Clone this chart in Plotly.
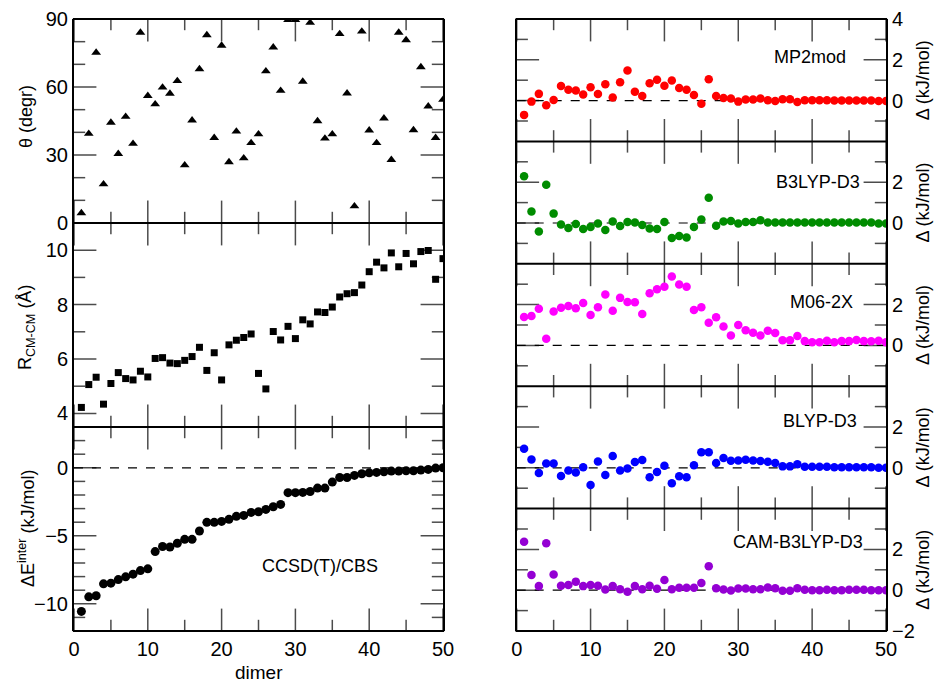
import plotly.graph_objects as go

dimer = list(range(1, 51))

theta = [4.4, 39.4, 75.2, 17.1, 44.3, 30.5, 46.9, 35.0, 84.0, 56.1,
         52.4, 59.8, 57.1, 62.7, 25.5, 45.3, 67.9, 82.9, 37.6, 78.3,
         26.9, 40.4, 28.6, 35.3, 39.2, 67.0, 77.5, 58.4, 89.6, 89.6,
         62.4, 88.4, 45.0, 37.3, 39.2, 83.4, 57.2, 7.4, 84.5, 40.9,
         35.3, 46.2, 27.9, 84.0, 80.7, 41.0, 68.8, 51.5, 37.6, 54.4]

r_cm = [4.22, 5.06, 5.33, 4.34, 5.10, 5.50, 5.28, 5.23, 5.55, 5.34,
        6.02, 6.05, 5.85, 5.83, 5.95, 6.09, 6.43, 5.58, 6.23, 5.23,
        6.52, 6.69, 6.79, 6.92, 5.47, 4.90, 7.01, 6.70, 7.20, 6.75,
        7.44, 7.29, 7.73, 7.71, 7.91, 8.28, 8.40, 8.44, 8.72, 9.21,
        9.56, 9.35, 9.90, 9.39, 9.88, 9.50, 9.95, 9.99, 8.93, 9.69]

e_inter = [-10.56, -9.49, -9.41, -8.53, -8.48, -8.22, -8.02, -7.82, -7.56, -7.43,
           -6.16, -5.79, -5.82, -5.55, -5.26, -5.26, -4.65, -4.01, -4.01, -3.94,
           -3.79, -3.57, -3.50, -3.28, -3.23, -3.06, -2.86, -2.69, -1.83, -1.83,
           -1.81, -1.74, -1.49, -1.49, -1.05, -0.71, -0.71, -0.56, -0.44, -0.37,
           -0.34, -0.29, -0.24, -0.24, -0.22, -0.22, -0.17, -0.12, -0.02, 0.0]

mp2mod = [-0.70, -0.05, 0.33, -0.23, 0.03, 0.72, 0.53, 0.50, 0.30, 0.65,
          0.32, 0.80, 0.15, 0.90, 1.48, 0.43, 0.23, 0.85, 1.02, 0.73,
          0.98, 0.62, 0.53, 0.27, -0.15, 1.05, 0.22, 0.13, 0.10, -0.05,
          0.05, 0.05, 0.10, 0.02, -0.02, 0.07, 0.07, -0.07, 0.02, 0.02,
          0.02, 0.02, 0.00, 0.00, 0.00, 0.00, 0.00, 0.00, -0.02, -0.02]

b3lyp_d3 = [2.29, 0.56, -0.42, 1.88, 0.46, -0.07, -0.24, -0.05, -0.29, -0.19,
            -0.02, -0.34, 0.07, -0.15, 0.05, 0.03, -0.10, -0.27, -0.29, 0.05,
            -0.73, -0.64, -0.71, -0.19, 0.17, 1.24, -0.14, 0.07, 0.10, -0.03,
            0.05, 0.05, 0.14, 0.03, 0.03, 0.03, 0.03, 0.03, 0.03, 0.03,
            0.02, 0.02, 0.02, 0.02, 0.02, 0.02, 0.02, 0.02, -0.02, -0.02]

m06_2x = [1.39, 1.44, 1.80, 0.33, 1.66, 1.84, 1.93, 1.82, 2.08, 1.49,
          1.87, 2.49, 1.70, 2.33, 2.13, 2.11, 1.54, 2.56, 2.75, 2.87,
          3.38, 2.98, 2.87, 1.74, 1.87, 1.11, 1.38, 0.93, 0.49, 1.00,
          0.74, 0.62, 0.49, 0.72, 0.61, 0.25, 0.25, 0.46, 0.21, 0.16,
          0.16, 0.23, 0.15, 0.21, 0.21, 0.26, 0.21, 0.20, 0.23, 0.16]

blyp_d3 = [0.93, 0.41, -0.26, 0.21, 0.21, -0.40, -0.13, -0.23, 0.03, -0.84,
           0.31, -0.35, 0.58, -0.13, -0.03, 0.28, 0.38, -0.46, -0.21, 0.10,
           -0.76, -0.41, -0.46, 0.13, 0.76, 0.76, 0.23, 0.48, 0.35, 0.36,
           0.40, 0.36, 0.33, 0.30, 0.23, 0.07, 0.07, 0.17, 0.05, 0.05,
           0.05, 0.05, 0.03, 0.03, 0.03, 0.03, 0.03, 0.03, 0.00, 0.00]

cam_b3lyp_d3 = [2.37, 0.75, 0.20, 2.30, 0.77, 0.22, 0.25, 0.42, 0.20, 0.25,
                0.22, 0.03, 0.20, 0.05, -0.08, 0.20, 0.05, 0.22, 0.07, 0.50,
                0.05, 0.12, 0.12, 0.12, 0.35, 1.18, 0.10, 0.03, -0.02, 0.08,
                0.08, 0.05, 0.05, 0.13, 0.10, -0.03, -0.03, 0.10, 0.02, 0.00,
                0.00, 0.02, 0.00, 0.00, 0.02, 0.02, 0.02, 0.00, 0.00, 0.00]

methods = ["MP2mod", "B3LYP-D3", "M06-2X", "BLYP-D3", "CAM-B3LYP-D3"]
method_values = [mp2mod, b3lyp_d3, m06_2x, blyp_d3, cam_b3lyp_d3]
method_colors = ["#ff0000", "#008c00", "#ff00ff", "#0000ff", "#9400d3"]
right_labels = [[0, 2, 4], [0, 2], [0, 2], [0, 2], [-2, 0, 2]]
label_pos = [(44.9, 2.14), (46.7, 1.99), (45.8, 2.15), (46.4, 2.27), (47.2, 2.38)]

# tick positions (major / minor) of every axis
x_major = [0, 10, 20, 30, 40, 50]
x_minor = [5, 15, 25, 35, 45]
theta_major, theta_minor = [0, 30, 60, 90], [10, 20, 40, 50, 70, 80]
r_major, r_minor = [4, 6, 8, 10], [5, 7, 9]
e_major, e_minor = [-10, -5, 0], [-11, -9, -8, -7, -6, -4, -3, -2, -1, 1, 2]
d_major, d_minor = [0, 2], [-1, 1, 3]

W, H = 937, 682
FONT = "Liberation Sans, Arial, sans-serif"
MAJ, MIN = 16, 8
XR = [0, 50]


def py(p):
    return 1 - p / H


LX = [74, 443]
RX = [516.7, 886]
left_edges = [19, 223, 427, 631]
right_edges = [19, 141.4, 263.8, 386.2, 508.6, 631]

fig = go.Figure()
layout = {}
shapes = []
annotations = []

TICKFONT = dict(family=FONT, size=20, color="black")


def name(kind, i):
    return kind if i == 1 else f"{kind}{i}"


def add_ticks(xa, ya, yr, ymaj, ymin):
    # tick marks as line-shaped markers centred on the frame; the plot-area clip
    # keeps only the inner half, giving inside ticks of the wanted length
    xs, ys, sz = [], [], []
    for vals, ln in ((x_major, MAJ), (x_minor, MIN)):
        for v in vals:
            for edge in yr:
                xs.append(v); ys.append(edge); sz.append(2 * ln)
    fig.add_trace(go.Scatter(x=xs, y=ys, mode="markers", xaxis=xa, yaxis=ya,
                             marker=dict(symbol="line-ns", size=sz, color="black",
                                         line=dict(width=1.5, color="black")),
                             cliponaxis=True, hoverinfo="skip", showlegend=False))
    xs, ys, sz = [], [], []
    for vals, ln in ((ymaj, MAJ), (ymin, MIN)):
        for v in vals:
            for edge in XR:
                xs.append(edge); ys.append(v); sz.append(2 * ln)
    fig.add_trace(go.Scatter(x=xs, y=ys, mode="markers", xaxis=xa, yaxis=ya,
                             marker=dict(symbol="line-ew", size=sz, color="black",
                                         line=dict(width=1.5, color="black")),
                             cliponaxis=True, hoverinfo="skip", showlegend=False))


def add_axes(i, xpx, ypx, yrange, ylabels, ymaj, ymin, yside, xlabels, top):
    xa, ya = name("x", i), name("y", i)
    layout[name("xaxis", i)] = dict(domain=[xpx[0] / W, xpx[1] / W], anchor=ya, range=XR,
                                    showline=False, ticks="", showgrid=False,
                                    zeroline=False, automargin=False,
                                    tickmode="array", tickvals=x_major,
                                    showticklabels=xlabels, tickfont=TICKFONT,
                                    ticklabelstandoff=4)
    layout[name("yaxis", i)] = dict(domain=[py(ypx[1]), py(ypx[0])], anchor=xa, range=yrange,
                                    side=yside, showline=True, linewidth=2, linecolor="black",
                                    mirror=True, ticks="", showgrid=False,
                                    zeroline=False, automargin=False,
                                    tickmode="array", tickvals=ylabels, tickfont=TICKFONT)
    add_ticks(xa, ya, yrange, ymaj, ymin)
    ys = [0, 1] if top else [0]
    for yv in ys:
        shapes.append(dict(type="line", xref=f"{xa} domain", yref=f"{ya} domain",
                           x0=-0.003, x1=1.003, y0=yv, y1=yv,
                           line=dict(color="black", width=2), layer="above"))


# left column
add_axes(1, LX, left_edges[0:2], [0, 90], theta_major,
         theta_major, theta_minor, "left", False, True)
add_axes(2, LX, left_edges[1:3], [3.5, 11], r_major,
         r_major, r_minor, "left", False, False)
add_axes(3, LX, left_edges[2:4], [-12, 3], e_major,
         e_major, e_minor, "left", True, False)

fig.add_trace(go.Scatter(x=dimer, y=theta, mode="markers", xaxis="x", yaxis="y",
                         marker=dict(symbol="triangle-up", size=8.5, color="black")))
fig.add_trace(go.Scatter(x=dimer, y=r_cm, mode="markers", xaxis="x2", yaxis="y2",
                         marker=dict(symbol="square", size=7, color="black")))
fig.add_trace(go.Scatter(x=dimer, y=e_inter, mode="markers", xaxis="x3", yaxis="y3",
                         marker=dict(symbol="circle", size=9, color="black")))

shapes.append(dict(type="line", xref="x3 domain", yref="y3", x0=0, x1=1, y0=0, y1=0,
                   line=dict(color="black", width=1.2, dash="dash"), layer="below"))

# right column
for k in range(5):
    i = 4 + k
    add_axes(i, RX, right_edges[k:k + 2], [-2, 4],
             right_labels[k], d_major, d_minor, "right", k == 4, k == 0)
    fig.add_trace(go.Scatter(x=dimer, y=method_values[k], mode="markers",
                             xaxis=f"x{i}", yaxis=f"y{i}",
                             marker=dict(symbol="circle", size=8.5, color=method_colors[k])))
    shapes.append(dict(type="line", xref=f"x{i} domain", yref=f"y{i}", x0=0, x1=1, y0=0, y1=0,
                       line=dict(color="black", width=1.2, dash="dash"), layer="below"))
    annotations.append(dict(x=label_pos[k][0], y=label_pos[k][1], xref=f"x{i}", yref=f"y{i}",
                            text=methods[k], showarrow=False, xanchor="right", yanchor="middle",
                            font=dict(family=FONT, size=18, color="black")))
    yc = (right_edges[k] + right_edges[k + 1]) / 2
    annotations.append(dict(x=923 / W, y=py(yc), xref="paper", yref="paper",
                            text="\u0394 (kJ/mol)", textangle=-90, showarrow=False,
                            xanchor="center", yanchor="middle",
                            font=dict(family=FONT, size=18, color="black")))

annotations.append(dict(x=33.4, y=-7.25, xref="x3", yref="y3", text="CCSD(T)/CBS",
                        showarrow=False, font=dict(family=FONT, size=18, color="black")))
annotations.append(dict(x=26 / W, y=py(117), xref="paper", yref="paper", text="\u03b8 (degr)",
                        textangle=-90, showarrow=False, xanchor="center", yanchor="middle",
                        font=dict(family=FONT, size=18, color="black")))
annotations.append(dict(x=26 / W, y=py(328), xref="paper", yref="paper",
                        text="R<sub>CM-CM</sub> (\u00c5)",
                        textangle=-90, showarrow=False, xanchor="center", yanchor="middle",
                        font=dict(family=FONT, size=18, color="black")))
annotations.append(dict(x=26 / W, y=py(528), xref="paper", yref="paper",
                        text="\u0394E<sup>inter</sup> (kJ/mol)",
                        textangle=-90, showarrow=False, xanchor="center", yanchor="middle",
                        font=dict(family=FONT, size=18, color="black")))
annotations.append(dict(x=258.5 / W, y=py(672), xref="paper", yref="paper", text="dimer",
                        showarrow=False, xanchor="center", yanchor="middle",
                        font=dict(family=FONT, size=19, color="black")))

fig.update_layout(template="none", width=W, height=H, margin=dict(l=0, r=0, t=0, b=0, pad=0),
                  paper_bgcolor="white", plot_bgcolor="white", showlegend=False,
                  shapes=shapes, annotations=annotations, **layout)

fig.write_html("out.html")
